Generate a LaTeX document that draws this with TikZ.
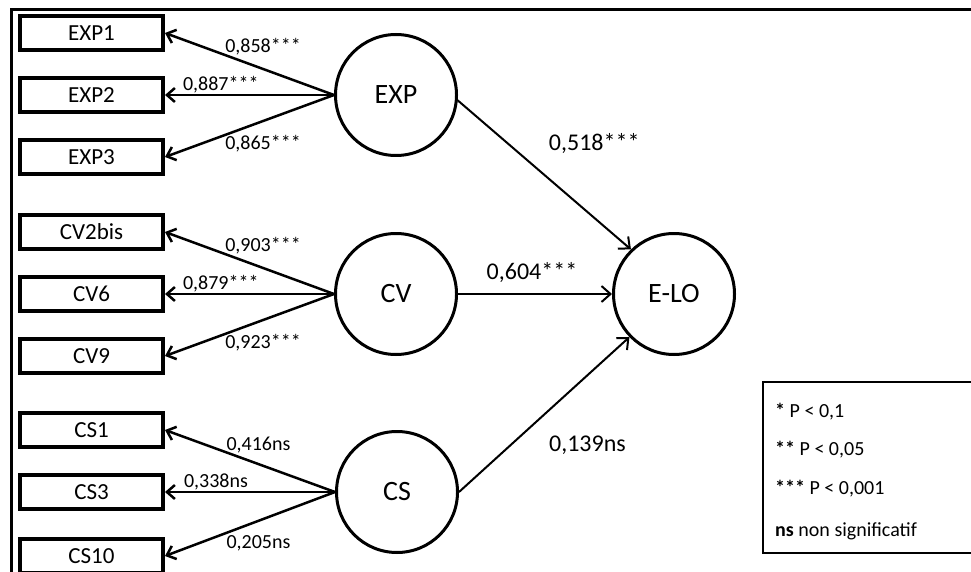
\documentclass[tikz,border=0pt]{standalone}
\usepackage{fontspec}
\setmainfont{Carlito}
\usetikzlibrary{arrows.meta}

\begin{document}
\begin{tikzpicture}[x=1pt,y=-1pt,line cap=round,
% Styles
indicator/.style={draw,line width=4pt,minimum width=143pt,minimum height=34pt,inner sep=0pt,font=\fontsize{23}{23}\selectfont},
construct/.style={draw,circle,line width=3pt,minimum size=121pt,inner sep=0pt,font=\fontsize{28}{28}\selectfont},
loading/.style={line width=2.5pt,-{Straight Barb[length=8pt,width=14pt]}},
structural/.style={line width=2pt,-{Straight Barb[length=9pt,width=16pt]}},
coef/.style={inner sep=0pt,font=\fontsize{20}{20}\selectfont},
big coef/.style={inner sep=0pt,font=\fontsize{24}{24}\selectfont},
legend text/.style={anchor=base west,inner sep=0pt,font=\fontsize{20}{20}\selectfont}]
\useasboundingbox (0,0) rectangle (971,572);
% Frame
\draw[line width=3pt] (971,10) -- (11,10) -- (11,572);
% Indicators
\foreach \name/\y in {EXP1/33,EXP2/95,EXP3/157,CV2bis/232,CV6/294,CV9/356,CS1/430,CS3/492,CS10/556}
    \node[indicator] (\name) at (91.5,\y) {\name};
% Latent variables
\node[construct] (EXP) at (396,95) {EXP};
\node[construct] (CV) at (396,294) {CV};
\node[construct] (CS) at (397,492) {CS};
\node[construct] (ELO) at (674,294) {E-LO};
% Outer loadings
\draw[loading] (EXP.west) -- node[coef,pos=.42,above=13pt] (lexp1) {0,858***} (EXP1.east);
\draw[loading] (EXP.west) -- node[coef,pos=.67,above=.5pt] (lexp2) {0,887***} (EXP2.east);
\draw[loading] (EXP.west) -- node[coef,pos=.42,below=13pt] (lexp3) {0,865***} (EXP3.east);
\draw[loading] (CV.west) -- node[coef,pos=.42,above=13pt] (lcv2) {0,903***} (CV2bis.east);
\draw[loading] (CV.west) -- node[coef,pos=.67,above=.5pt] (lcv6) {0,879***} (CV6.east);
\draw[loading] (CV.west) -- node[coef,pos=.42,below=13pt] (lcv9) {0,923***} (CV9.east);
\draw[loading] (CS.west) -- node[coef,pos=.45,above=10pt] (lcs1) {0,416ns} (CS1.east);
\draw[loading] (CS.west) -- node[coef,pos=.70,above=.5pt] (lcs3) {0,338ns} (CS3.east);
\draw[loading] (CS.west) -- node[coef,pos=.45,below=13pt] (lcs10) {0,205ns} (CS10.east);
% Path coefficients
\draw[structural] (EXP.-5) -- node[big coef,pos=.29,right=40pt] (pexp) {0,518***} (ELO.134);
\draw[structural] (CV.east) -- node[big coef,pos=.48,above=10pt] (pcv) {0,604***} (ELO.west);
\draw[structural] (CS.east) -- node[big coef,pos=.3,right=38pt] (pcs) {0,139ns} (ELO.224);
% Legend
\draw[line width=1.5pt] (763,382) rectangle (985,553);
\node[legend text] (sig1) at (775,417) {{\bfseries *} P < 0,1};
\node[legend text] (sig2) at (775,455) {{\bfseries **} P < 0,05};
\node[legend text] (sig3) at (775,494) {{\bfseries ***} P < 0,001};
\node[legend text] (signs) at (775,536) {{\bfseries ns} non significatif};
\end{tikzpicture}
\end{document}
